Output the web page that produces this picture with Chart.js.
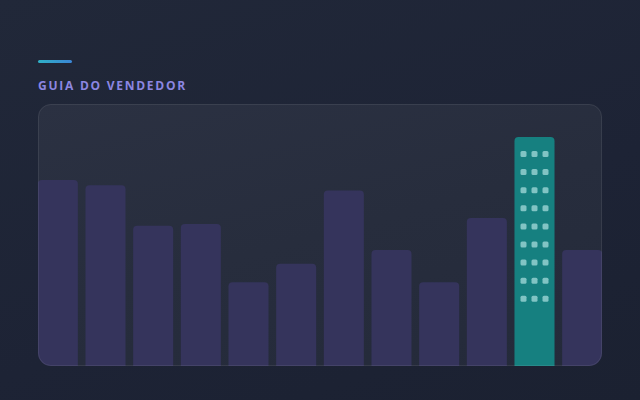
<!DOCTYPE html>
<html>
<head>
<meta charset="utf-8">
<script src="https://cdn.jsdelivr.net/npm/chart.js@4"></script>
<style>
  html, body { margin: 0; padding: 0; }
  body {
    width: 640px; height: 400px; overflow: hidden; position: relative;
    background: linear-gradient(160deg, #212839 0%, #1d2335 60%, #1b2131 100%);
    font-family: "Open Sans", "Noto Sans", sans-serif;
  }
  .traco {
    position: absolute; left: 38px; top: 60px; width: 34px; height: 3px;
    border-radius: 2px;
    background: linear-gradient(90deg, #2fb0c6, #3b86d6);
  }
  .titulo {
    position: absolute; left: 38px; top: 77px; margin: 0;
    font-size: 12px; font-weight: 700; letter-spacing: 1.75px;
    color: #8c86e2;
  }
  .painel {
    position: absolute; left: 38px; top: 104px; width: 564px; height: 262px;
    border-radius: 13px; overflow: hidden;
    background: linear-gradient(165deg, #2b3142 0%, #272d3d 50%, #242a3a 100%);
  }
  .borda {
    position: absolute; left: 38px; top: 104px; width: 564px; height: 262px;
    box-sizing: border-box; border-radius: 13px;
    border: 1px solid rgba(255,255,255,0.08); pointer-events: none;
  }
  #grafico { position: absolute; left: -4px; top: 0; }
</style>
</head>
<body>
<div class="traco"></div>
<p class="titulo">GUIA DO VENDEDOR</p>
<div class="painel"><canvas id="grafico" width="572" height="262"></canvas></div>
<div class="borda"></div>
<script>
// Dados
const rotulos = ['1', '2', '3', '4', '5', '6', '7', '8', '9', '10', '11', '12'];
const valores = [71, 69, 53.5, 54.2, 32, 39, 67, 44.3, 32, 56.5, 87.4, 44.3];
const indiceDestaque = 10;

const corBarra = '#35345c';
const corDestaque = '#168080';

// Desenha as "janelas" do prédio destacado
const pluginJanelas = {
    id: 'janelas',
    afterDatasetsDraw(chart) {
        const barra = chart.getDatasetMeta(0).data[indiceDestaque];
        if (!barra) return;
        const ctx = chart.ctx;
        ctx.save();
        ctx.fillStyle = 'rgba(170, 222, 222, 0.72)';
        for (let linha = 0; linha < 9; linha++) {
            const y = barra.y + 14 + linha * 18.1;
            for (let col = -1; col <= 1; col++) {
                const x = barra.x + col * 11 - 3;
                ctx.beginPath();
                ctx.roundRect(x, y, 6, 6, 1.5);
                ctx.fill();
            }
        }
        ctx.restore();
    }
};

const ctxGrafico = document.getElementById('grafico').getContext('2d');

const graficoVendedor = new Chart(ctxGrafico, {
    type: 'bar',
    data: {
        labels: rotulos,
        datasets: [{
            data: valores,
            backgroundColor: valores.map((v, i) => i === indiceDestaque ? corDestaque : corBarra),
            borderRadius: { topLeft: 4, topRight: 4, bottomLeft: 0, bottomRight: 0 },
            borderSkipped: false,
            barPercentage: 1,
            categoryPercentage: 0.84
        }]
    },
    options: {
        responsive: false,
        animation: false,
        layout: { padding: 0 },
        scales: {
            x: { display: false },
            y: { display: false, min: 0, max: 100 }
        },
        plugins: {
            legend: { display: false },
            tooltip: { enabled: false }
        }
    },
    plugins: [pluginJanelas]
});
</script>
</body>
</html>
